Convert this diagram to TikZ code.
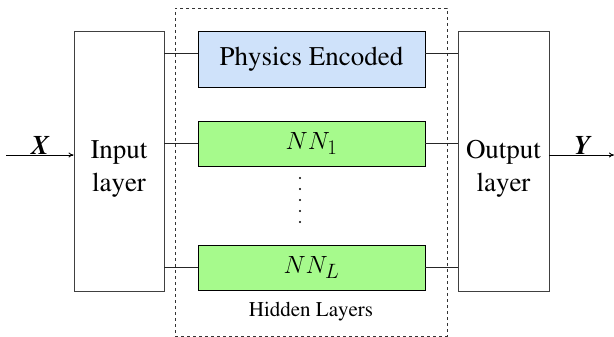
\documentclass[tikz,border=0pt]{standalone}
\usepackage[T1]{fontenc}
\usepackage{times}
\usetikzlibrary{calc,arrows.meta}
\definecolor{physblue}{RGB}{207,226,250}
\definecolor{nngreen}{RGB}{166,250,140}
\tikzset{
  layerbox/.style={draw=black!75, line width=0.9pt, minimum width=90pt, minimum height=260pt, inner sep=0pt},
  layertext/.style={align=center, inner sep=0pt, font=\fontsize{27}{33}\selectfont},
  hidbox/.style={draw=black, line width=0.9pt, minimum width=227pt, inner sep=0pt, font=\fontsize{27}{32}\selectfont},
  mathtext/.style={font=\fontsize{29}{34}\selectfont},
  conn/.style={line width=0.9pt, draw=black!85},
  io/.style={line width=0.9pt, -{To[length=5pt,width=5pt]}},
  iolabel/.style={font=\fontsize{27}{32}\selectfont\bfseries\itshape, inner sep=0pt}
}
\begin{document}
\begin{tikzpicture}[x=1pt,y=-1pt]
\useasboundingbox (0,0) rectangle (614,337);
\node[draw=black!80, dashed, line width=0.8pt, minimum width=272pt, minimum height=328pt, inner sep=0pt] (hidden) at (311,172) {};
\node[layerbox, label={[layertext, yshift=-8pt]center:Input\\layer}] (input) at (119,161) {};
\node[layerbox, minimum width=91pt, label={[layertext, yshift=-8pt]center:Output\\layer}] (output) at (503.5,161) {};
\node[hidbox, fill=physblue, minimum height=56pt] (phys) at (311.5,59) {Physics Encoded};
\node[hidbox, fill=nngreen, minimum height=45pt, mathtext] (nn1) at (311.5,143.5) {$NN_1$};
\node[hidbox, fill=nngreen, minimum height=45pt, mathtext] (nnl) at (311.5,267.5) {$NN_L$};
\node[font=\fontsize{21}{26}\selectfont, inner sep=0pt] (hlabel) at (311,312) {Hidden Layers};
\foreach \y in {178,189,200,211,222} \fill (300,\y) circle (1.2pt);
% connectors
\draw[conn] (input.east |- 0,53) -- (phys.west |- 0,53);
\draw[conn] (phys.east |- 0,53) -- (output.west |- 0,53);
\draw[conn] (input.east |- nn1.west) -- (nn1.west);
\draw[conn] (nn1.east) -- (output.west |- nn1.east);
\draw[conn] (input.east |- nnl.west) -- (nnl.west);
\draw[conn] (nnl.east) -- (output.west |- nnl.east);
% input / output
\coordinate (xin) at (6,155);
\coordinate (yout) at (614,155);
\draw[io] (xin) -- (input.west |- xin);
\draw[io] (output.east |- yout) -- (yout);
\node[iolabel] (xlab) at (40,145) {X};
\node[iolabel] (ylab) at (582,145) {Y};
\end{tikzpicture}
\end{document}
